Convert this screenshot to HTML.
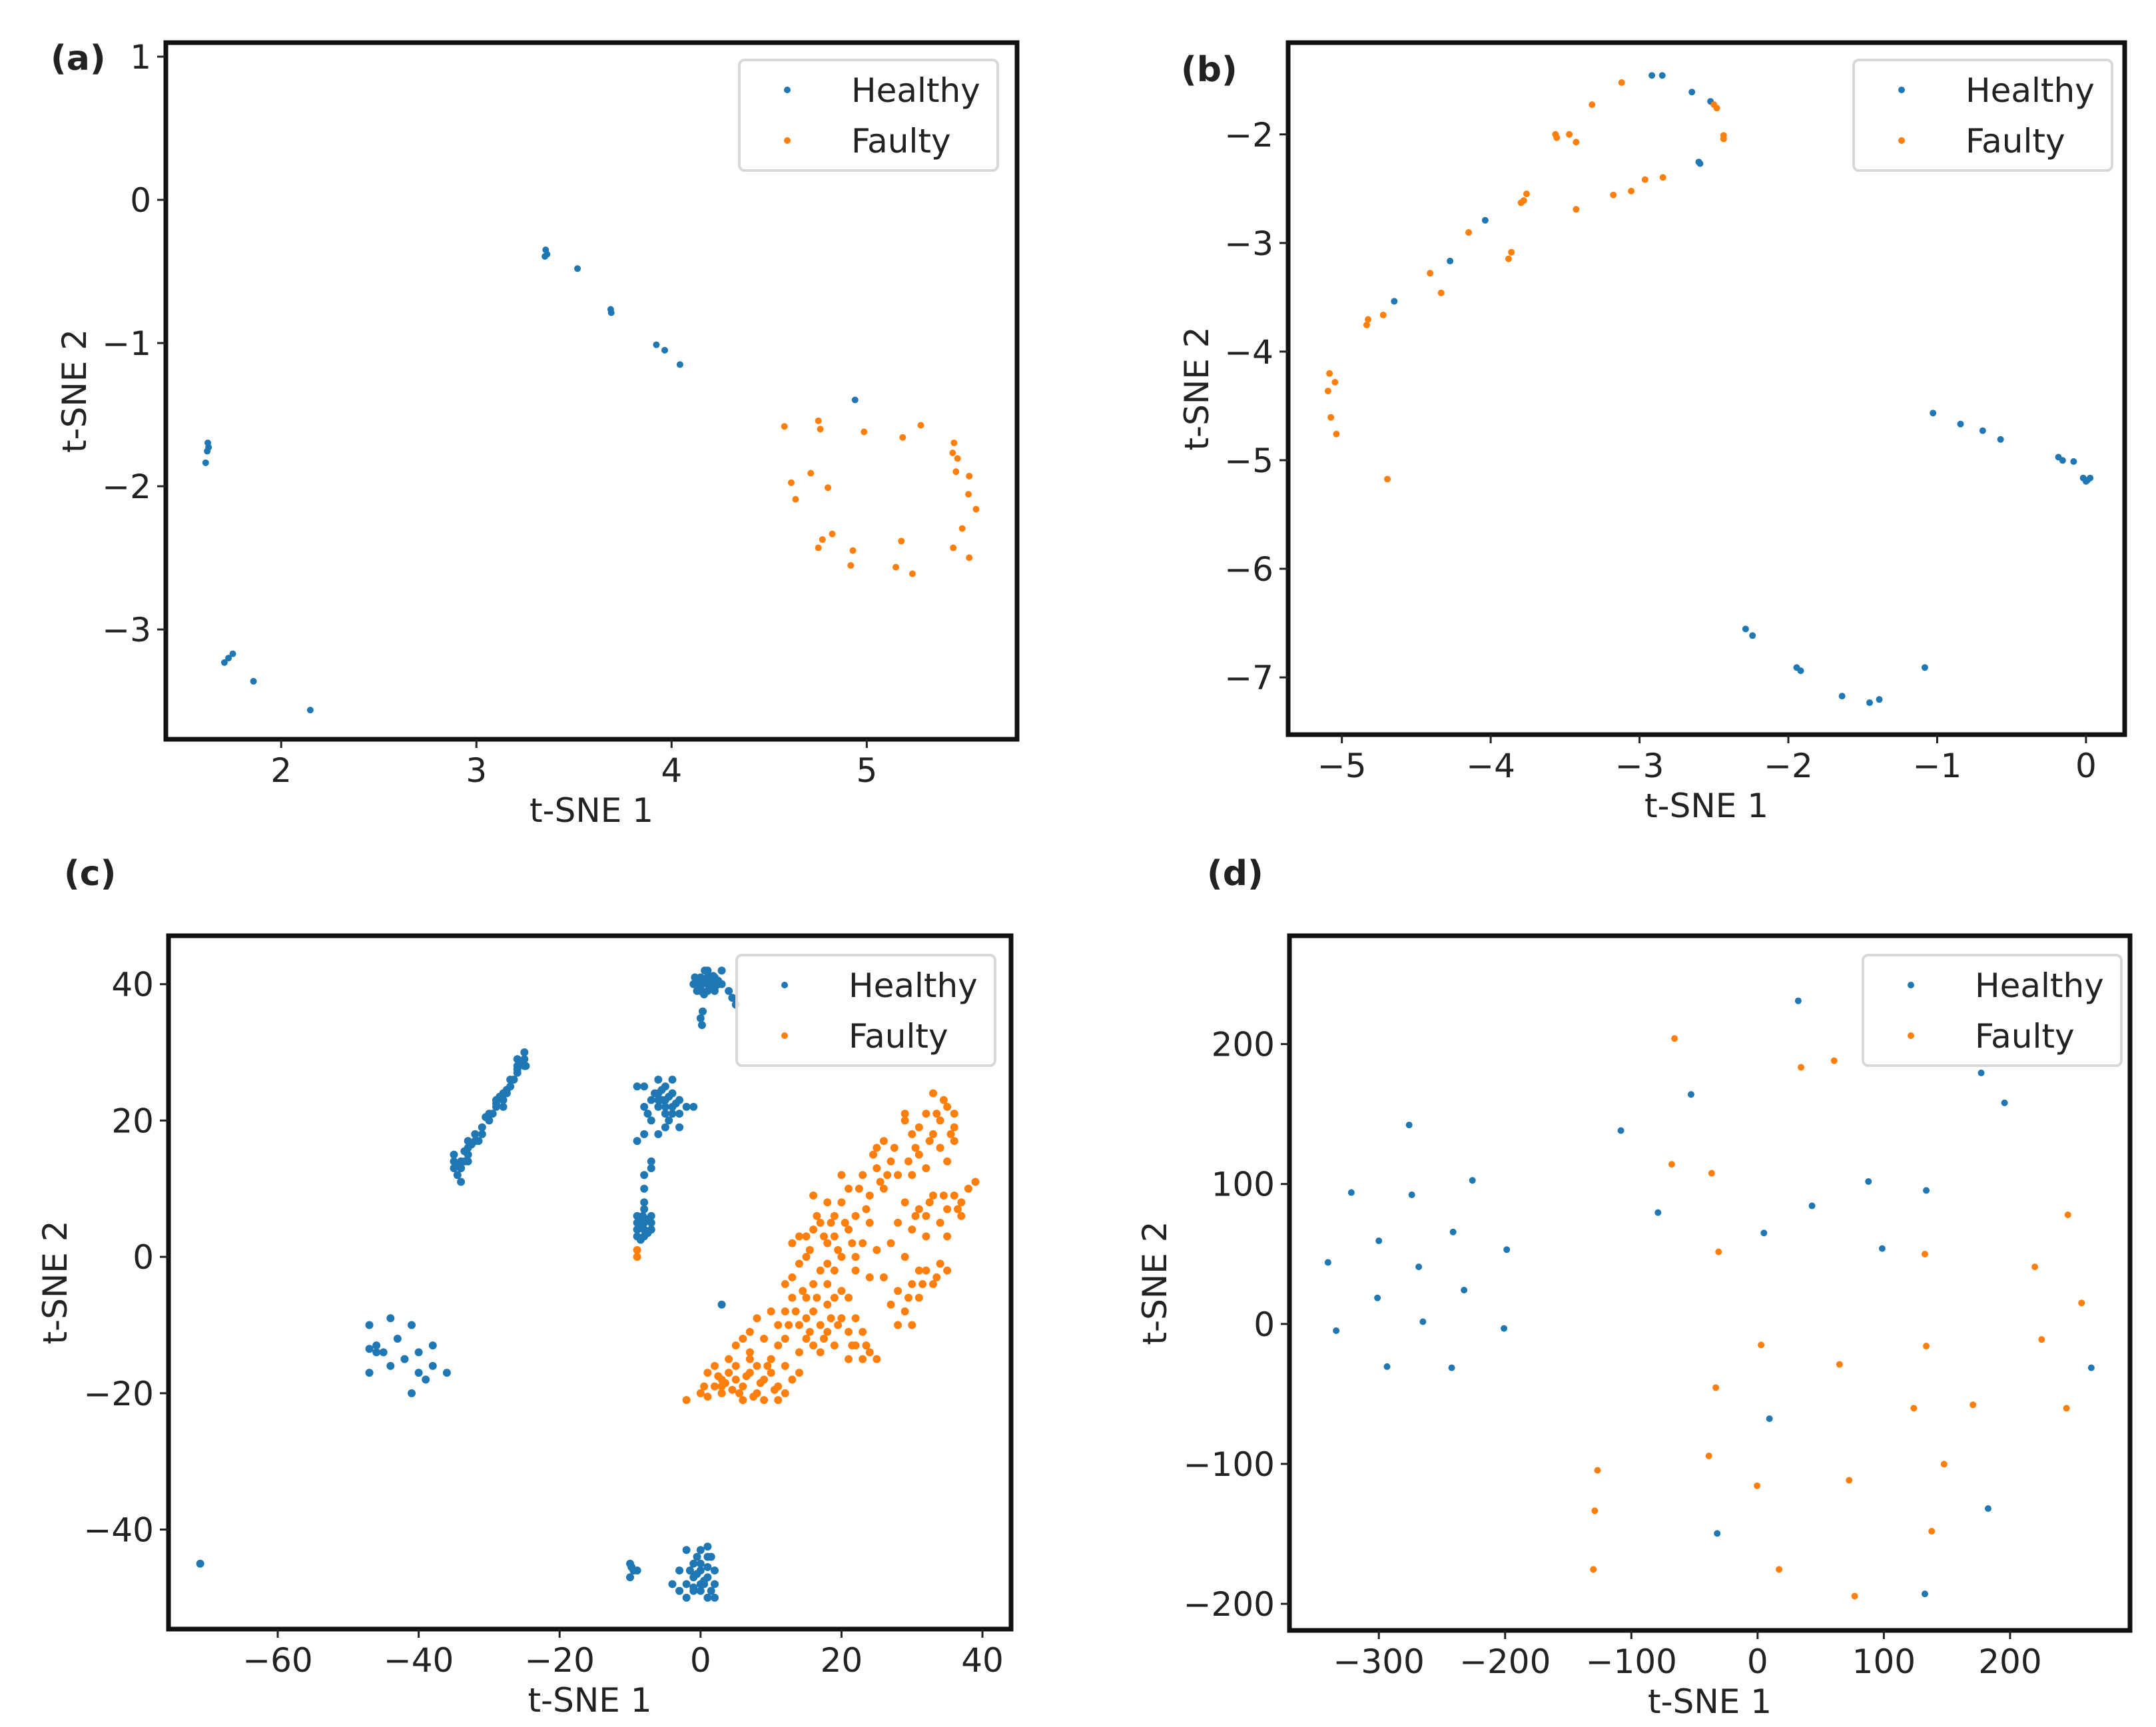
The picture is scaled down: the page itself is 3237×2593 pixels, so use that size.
<!DOCTYPE html>
<html><head><meta charset="utf-8">
<style>
html,body{margin:0;padding:0;background:#fff;}
svg{display:block;}
text{font-family:"DejaVu Sans","Liberation Sans",sans-serif;fill:#222;}
</style></head>
<body>
<svg id="fig" width="3237" height="2593" viewBox="0 0 3237 2593" xmlns="http://www.w3.org/2000/svg"></svg>
<script>
// ---------- Panel (a) data ----------
const aHealthyX = [3.355,3.362,3.351,3.518,3.688,3.691,3.922,3.965,4.043,4.940,1.624,1.628,1.621,1.613,1.709,1.730,1.752,1.858,2.149];
const aHealthyY = [-0.349,-0.380,-0.395,-0.480,-0.765,-0.788,-1.012,-1.050,-1.150,-1.397,-1.697,-1.728,-1.755,-1.836,-3.231,-3.200,-3.170,-3.362,-3.563];
const aFaultyX = [4.578,4.752,4.762,4.986,5.184,5.277,5.447,5.440,5.465,5.457,5.525,5.521,5.560,5.489,5.443,5.525,5.177,5.149,5.234,4.929,4.918,4.823,4.773,4.752,4.801,4.713,4.613,4.635];
const aFaultyY = [-1.582,-1.543,-1.601,-1.620,-1.659,-1.574,-1.697,-1.767,-1.806,-1.898,-1.929,-2.056,-2.160,-2.295,-2.430,-2.499,-2.383,-2.565,-2.611,-2.449,-2.553,-2.333,-2.372,-2.430,-2.010,-1.909,-1.975,-2.091];
const aXTicks = [2,3,4,5];
const aYTicks = [1,0,-1,-2,-3];

// ---------- Panel (b) data ----------
const bHealthyX = [-2.917,-2.847,-2.648,-2.523,-2.593,-2.602,-4.037,-4.273,-4.648,-1.028,-0.843,-0.694,-0.574,-0.185,-0.157,-0.083,-0.019,0.009,0.028,0.0,-2.287,-2.241,-1.944,-1.917,-1.639,-1.454,-1.389,-1.083];
const bHealthyY = [-1.457,-1.457,-1.610,-1.696,-2.269,-2.254,-2.791,-3.166,-3.537,-4.566,-4.667,-4.728,-4.809,-4.972,-5.002,-5.012,-5.164,-5.185,-5.164,-5.195,-6.554,-6.615,-6.909,-6.939,-7.172,-7.233,-7.203,-6.909];
const bFaultyX = [-3.120,-3.319,-3.565,-3.556,-3.472,-3.426,-2.500,-2.481,-2.435,-2.435,-2.843,-2.963,-3.056,-3.176,-3.426,-3.759,-3.778,-3.796,-4.148,-3.861,-3.880,-4.407,-4.333,-4.722,-4.824,-4.833,-5.083,-5.046,-5.093,-5.074,-5.037,-4.694];
const bFaultyY = [-1.523,-1.726,-2.000,-2.030,-2.000,-2.071,-1.726,-1.757,-2.010,-2.041,-2.396,-2.416,-2.522,-2.558,-2.690,-2.548,-2.609,-2.629,-2.903,-3.085,-3.146,-3.278,-3.460,-3.663,-3.704,-3.755,-4.201,-4.282,-4.363,-4.606,-4.759,-5.174];
const bXTicks = [-5,-4,-3,-2,-1,0];
const bYTicks = [-2,-3,-4,-5,-6,-7];

// ---------- Panel (c) data ----------
const cHealthyX = [0,1,2,-1,0,1,2,1,3,2,0,3,4,4.5,5,0,0.2,0.3,-0.5,1.5,0.5,1.2,-0.8,2.5,0.6,
 0.5,1.5,-0.5,2.5,1,0,1.8,2.2,
 -35,-34,-35,-34,-33,-33,-32,-32,-31,-30,-29,-28,-28,-27,-26,-26,-25,-25,-27,-29,-30,-33,-34,-35,-25,-26,-28,-31,-34.5,-33.5,-26.5,-29.5,-31.5,-27.5,-24.8,
 -34.5,-33,-32.5,-29,-28.5,-27.5,-26,-25.5,-33.5,-30.5,
 -9,-8,-6,-5,-4,-4,-5,-6,-7,-8,-9,-3,-2,-1,-5,-3,-6,-7,-4,-8,-5,-3,-6,-5.5,-4.5,-6.5,-7.5,
 -4.5,-5.5,-4,-5,-6,-3.5,
 -7,-7,-8,-8,-8,-9,-8,-7,-9,-8,-7,-9,-8,-7,-9,-8.5,-7.5,-8.5,-7.8,
 -8.5,-8,-7.5,-8.2,-7.8,-8.6,
 -47,-44,-41,-46,-43,-40,-45,-42,-38,-47,-44,-40,-38,-47,-39,-36,-41,-46,
 -71,3,
 -10,-9.5,-10,-9,-9.8,-2,0,1,-1,-3,0,1,-2,-1,0,1,2,2,-4,-1,0,1,-2,-3,2,-0.5,0.5,-1.5,1.5,
 -0.5,0.5,-1,1,0,-1.5,1.5];
const cHealthyY = [40,41,40,40,39,39,41,42,42,39,41,40,39,38,37,35,34,36,39,40.5,38.5,40,41,40,42,
 40.5,39.5,40.5,40.5,40,39.5,41.2,39.8,
 14,13,15,11,16,15,17,18,19,20,22,23,24,25,27,28,29,30,26,23,21,17,14,13,28,29,22,18,12,14,26,21,17,24,28,
 13.5,14,16.5,22.5,23.5,24.5,27.5,28.5,15.5,20.5,
 25,25,26,25,24,22,21,22,20,18,17,21,22,22,19,19,24,23,26,22,23,23,18,23,20,24,21,
 23.5,24.5,21,22,23,22.5,
 14,13,12,10,8,6,5,5,4,3,4,5,7,6,3,4.5,3.5,2.5,5.5,
 5,4,5.5,6,3.5,4.2,
 -10,-9,-10,-13,-12,-14,-14,-15,-13,-13.5,-16,-17,-16,-17,-18,-17,-20,-14,
 -45,-7,
 -45,-46,-47,-46,-45.5,-43,-43,-44,-45,-46,-46,-47,-48,-49,-49,-50,-48,-46,-48,-47,-45,-42.5,-50,-49,-50,-44,-48,-46,-44,
 -46.5,-47.5,-48.5,-45.5,-48,-46,-49];
const cFaultyX = [-2,0,1,2,3,4,5,5,6,7,7,8,9,10,10,8,11,12,3,6,9,11,13,12,4,1,2,14,
 11,12,12,13,14,15,16,16,17,18,18,19,20,14,15,17,19,21,21,22,23,24,25,22,23,20,12,13,10,9,11,7,8,6,7,
 13,14,15,16,17,18,19,20,21,22,23,24,25,19,17,14,20,21,22,23,24,25,26,27,28,16,18,21,26,15,22,18,20,24,19,
 28,29,30,31,32,33,34,30,28,27,29,31,35,27,28,29,30,31,32,33,34,35,36,37,38,39,37,35,32,30,31,32,33,34,35,33,34,36,35,31,29,30,36,32,36,
 -9,-9,25,26,29,16,18,5,3,15,
 0.5,2.5,4.5,6.5,8.5,10.5,5.5,7.5,3.5,9.5,
 13.5,15.5,17.5,19.5,14.5,16.5,18.5,12.5,23.5,21.5,
 15.5,17.5,19.5,21.5,23.5,25.5,20.5,18.5,22.5,26.5,16.5,24.5,27.5,29.5,
 29.5,31.5,33.5,30.5,32.5,34.5,36.5,33.5,34.5,35.5,32.5,30.5];
const cFaultyY = [-21,-20,-20.5,-19,-18,-17,-18,-16,-19,-17,-15,-16,-18,-17,-15,-20,-19,-16,-20,-21,-21,-21,-18,-20,-15,-17,-16,-17,
 -10,-8,-12,-6,-10,-12,-8,-13,-10,-11,-7,-13,-9,-14,-9,-14,-6,-11,-15,-13,-15,-14,-15,-9,-11,-5,-4,-3,-8,-12,-13,-11,-9,-12,-14,
 2,3,0,4,-2,2,6,0,4,-2,2,-3,1,-2,5,-1,8,10,6,12,9,13,10,14,12,-4,-4,-6,-3,3,0,8,12,5,3,
 -5,-8,-4,-6,-2,-4,-1,-10,-10,-7,0,-2,-2,2,5,8,4,7,6,9,5,7,9,8,10,11,6,3,3,12,15,13,18,20,22,24,16,19,14,19,20,18,21,21,17,
 1,0,16,17,21,9,-1,-13,-19,-6,
 -19,-17.5,-19.5,-17.5,-18.5,-19.5,-20,-20.5,-18.5,-16,
 -8,-11,-12,-10,-5,-6,-9,-10,-13,-13,
 1,3,1,2,7,11,5,5,10,12,6,15,16,14,
 -6,-4,-3,6,8,9,7,21,23,18,17,16];
const cXTicks = [-60,-40,-20,0,20,40];
const cYTicks = [40,20,0,-20,-40];

// ---------- Panel (d) data ----------
const dHealthyX = [32.2,-52.7,-108.3,-78.9,87.8,133.6,43.1,5,98.7,177.1,195.6,-276,-321.8,-273.9,-225.9,-241.2,-300,-198.7,-340.3,-268.4,-232.5,-301.1,-265.1,-333.8,-200.9,-293.5,-242.3,264.3,9.4,-32,182.6,132.5];
const dHealthyY = [230.9,164,138.2,79.6,101.8,95.4,84.4,65,53.9,179.4,158,142.2,93.9,92.3,102.6,65.7,59.4,53.1,44,40.8,24.2,18.6,1.6,-4.8,-3.2,-30.5,-31.3,-31.3,-67.7,-149.7,-131.9,-192.9];
const dFaultyX = [-65.8,34.4,60.6,-68,-36.4,-30.9,132.5,245.8,219.6,256.6,2.8,64.9,133.6,225,-33.1,123.7,170.6,244.7,-38.6,-126.8,-0.4,72.5,147.7,-129,137.9,-130.1,17,76.9];
const dFaultyY = [204,183.4,188.1,114.1,107.7,51.5,49.9,78,40.8,15,-15,-28.9,-15.8,-11.1,-45.5,-60.2,-57.8,-60.2,-94.3,-104.6,-115.6,-111.7,-100.2,-133.5,-148.1,-175.4,-175.4,-194.5];
const dXTicks = [-300,-200,-100,0,100,200];
const dYTicks = [200,100,0,-100,-200];

const BLUE = '#1f77b4', ORANGE = '#ff7f0e';
const NS = 'http://www.w3.org/2000/svg';
const svg = document.getElementById('fig');

function mk(tag, attrs, parent) {
  const e = document.createElementNS(NS, tag);
  for (const k in attrs) e.setAttribute(k, attrs[k]);
  (parent || svg).appendChild(e);
  return e;
}
function fmt(v) { return v < 0 ? '\u2212' + Math.abs(v) : String(v); }

function panel(p) {
  const g = mk('g', {});
  
  
  const sx = v => p.L + (v - p.x0) / (p.x1 - p.x0) * (p.R - p.L);
  const sy = v => p.B - (v - p.y0) / (p.y1 - p.y0) * (p.B - p.T);

  const series = [[p.hx, p.hy, BLUE, 'healthy-point'], [p.fx, p.fy, ORANGE, 'faulty-point']];
  for (const s of series) {
    for (let i = 0; i < s[0].length; i++) {
      const c = mk('circle', {cx: sx(s[0][i]), cy: sy(s[1][i]), r: p.r, fill: s[2]}, g);
      
      
    }
  }
  const fr = mk('rect', {x: p.L, y: p.T, width: p.R - p.L, height: p.B - p.T, fill: 'none', stroke: '#111', 'stroke-width': 7}, g);
  
  
  for (const t of p.xt) {
    const x = sx(t);
    const tk = mk('line', {x1: x, x2: x, y1: p.B, y2: p.B + 13, stroke: '#222', 'stroke-width': 3}, g);
    
    
    const tl = mk('text', {x: x, y: p.B + 64, 'font-size': 50, 'text-anchor': 'middle'}, g);
    
    
    tl.textContent = fmt(t);
  }
  for (const t of p.yt) {
    const y = sy(t);
    const tk = mk('line', {x1: p.L - 13, x2: p.L, y1: y, y2: y, stroke: '#222', 'stroke-width': 3}, g);
    
    
    const tl = mk('text', {x: p.L - 22, y: y + 18, 'font-size': 50, 'text-anchor': 'end'}, g);
    
    
    tl.textContent = fmt(t);
  }
  const xl = mk('text', {x: (p.L + p.R) / 2, y: p.B + 124, 'font-size': 50, 'text-anchor': 'middle'}, g);
  
  
  xl.textContent = 't-SNE 1';
  const cy = (p.T + p.B) / 2;
  const yl = mk('text', {x: 0, y: 0, 'font-size': 50, 'text-anchor': 'middle', transform: 'translate(' + (p.ylx + 17) + ',' + cy + ') rotate(-90)'}, g);
  
  
  yl.textContent = 't-SNE 2';
  const lg = mk('g', {}, g);
  
  
  mk('rect', {x: p.lgX, y: p.lgY, width: 388, height: 166, rx: 8, fill: 'rgba(255,255,255,0.85)', stroke: '#d8d8d8', 'stroke-width': 4}, lg);
  const ents = [['Healthy', BLUE, 45], ['Faulty', ORANGE, 121]];
  for (const e of ents) {
    const eg = mk('g', {}, lg);
    
    
    mk('circle', {cx: p.lgX + 72, cy: p.lgY + e[2], r: 5, fill: e[1]}, eg);
    const tx = mk('text', {x: p.lgX + 168, y: p.lgY + e[2] + 18, 'font-size': 50}, eg);
    tx.textContent = e[0];
  }
  const pl = mk('text', {x: p.plX, y: p.plY, 'font-size': 52, 'font-weight': 'bold', fill: '#000'}, g);
  
  
  pl.textContent = '(' + p.id + ')';
}

panel({id: 'a', L: 249, R: 1527, T: 64, B: 1110, x0: 1.409, x1: 5.77, y0: -3.767, y1: 1.098,
  hx: aHealthyX, hy: aHealthyY, fx: aFaultyX, fy: aFaultyY, xt: aXTicks, yt: aYTicks, r: 5,
  ylx: 112, lgX: 1110, lgY: 90, plX: 76, plY: 105});
panel({id: 'b', L: 1934, R: 3190, T: 64, B: 1103, x0: -5.361, x1: 0.26, y0: -7.527, y1: -1.155,
  hx: bHealthyX, hy: bHealthyY, fx: bFaultyX, fy: bFaultyY, xt: bXTicks, yt: bYTicks, r: 5,
  ylx: 1797, lgX: 2783, lgY: 90, plX: 1773, plY: 122});
panel({id: 'c', L: 253, R: 1518, T: 1405, B: 2446, x0: -75.5, x1: 44.06, y0: -54.6, y1: 47.1,
  hx: cHealthyX, hy: cHealthyY, fx: cFaultyX, fy: cFaultyY, xt: cXTicks, yt: cYTicks, r: 6,
  ylx: 83, lgX: 1106, lgY: 1434, plX: 96, plY: 1329});
panel({id: 'd', L: 1936, R: 3198, T: 1405, B: 2448, x0: -370.8, x1: 295, y0: -219, y1: 277.4,
  hx: dHealthyX, hy: dHealthyY, fx: dFaultyX, fy: dFaultyY, xt: dXTicks, yt: dYTicks, r: 5,
  ylx: 1734, lgX: 2797, lgY: 1434, plX: 1812, plY: 1329});
</script>
</body></html>
